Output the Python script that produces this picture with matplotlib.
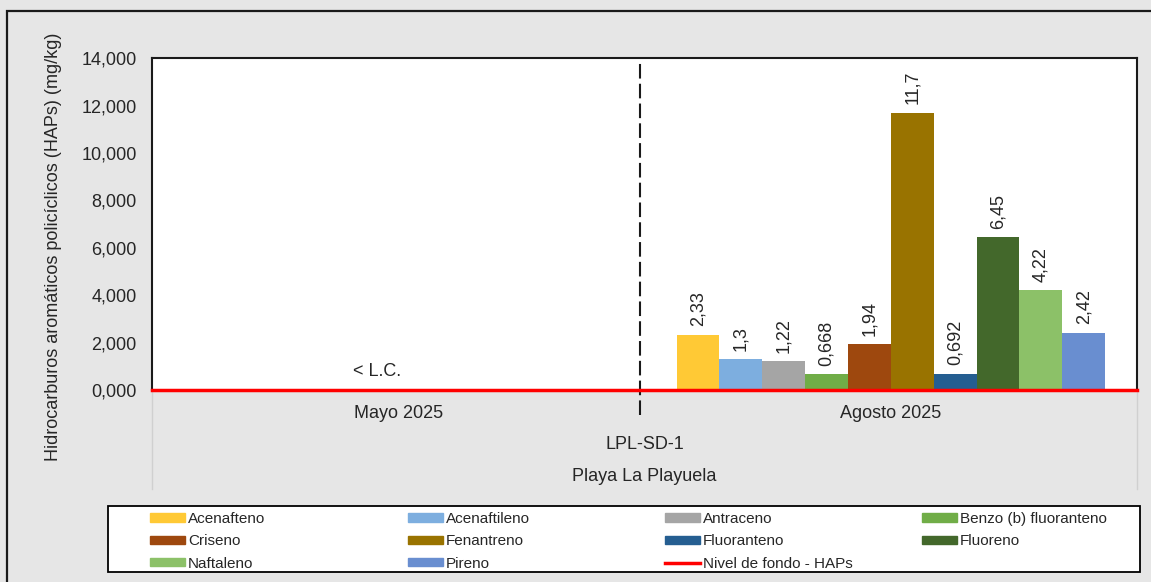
import numpy as np
import matplotlib
matplotlib.use('Agg')
import matplotlib.pyplot as plt
from matplotlib.patches import Rectangle
from matplotlib.lines import Line2D

plt.rcParams['font.family'] = ['Liberation Sans', 'DejaVu Sans']

# datos
CATEGORIES = ["Mayo 2025", "Agosto 2025"]
STATION = "LPL-SD-1"
SITE = "Playa La Playuela"
COMPOUNDS = ["Acenafteno", "Acenaftileno", "Antraceno", "Benzo (b) fluoranteno",
             "Criseno", "Fenantreno", "Fluoranteno", "Fluoreno", "Naftaleno", "Pireno"]
COLORS = ["#FFC935", "#7DAEDF", "#A5A5A5", "#70AD47", "#9E480E",
          "#997300", "#255E91", "#43682B", "#8CC168", "#698ED0"]
MAYO = [0, 0, 0, 0, 0, 0, 0, 0, 0, 0]  # < L.C.
AGOSTO = [2.33, 1.3, 1.22, 0.668, 1.94, 11.7, 0.692, 6.45, 4.22, 2.42]
AGOSTO_LABELS = ["2,33", "1,3", "1,22", "0,668", "1,94", "11,7", "0,692", "6,45", "4,22", "2,42"]
NIVEL_FONDO = 0.0
YTICKS = [0, 2, 4, 6, 8, 10, 12, 14]

TXT = '#262626'
FS = 13

fig = plt.figure(figsize=(11.51, 5.82), dpi=100)
fig.patch.set_facecolor('#E6E6E6')
ax = fig.add_axes([0.132, 0.330, 0.856, 0.570])
ax.set_facecolor('white')

x = np.arange(len(CATEGORIES))
n = len(COMPOUNDS)
group = 0.87
w = group / n

bars_list = []
for i, (name, color) in enumerate(zip(COMPOUNDS, COLORS)):
    vals = [MAYO[i], AGOSTO[i]]
    pos = x + (i - (n - 1) / 2) * w
    bars = ax.bar(pos, vals, w, color=color, label=name, zorder=2)
    bars_list.append(bars)
    # etiqueta de datos (agosto)
    b = bars[1]
    ax.annotate(AGOSTO_LABELS[i], xy=(b.get_x() + b.get_width() / 2, b.get_height()),
                xytext=(0, 6), textcoords="offset points", ha='center', va='bottom',
                rotation=90, fontsize=FS, color=TXT)

# < L.C. en mayo
b = bars_list[4][0]
ax.annotate("< L.C.", xy=(b.get_x() + b.get_width() / 2, 0), xytext=(0, 7),
            textcoords="offset points", ha='center', va='bottom', fontsize=FS, color=TXT)

# nivel de fondo
ax.axhline(NIVEL_FONDO, color='#FF0000', lw=2.5, zorder=4, clip_on=False)

# separador
ax.axvline(0.49, ymin=-0.075, ymax=1, color='#1a1a1a', lw=1.5, ls=(0, (7, 2.5)),
           clip_on=False, zorder=3)

ax.set_xlim(-0.5, 1.5)
ax.set_ylim(0, 14)
ax.set_yticks(YTICKS)
ax.set_yticklabels([f"{v},000" for v in YTICKS], fontsize=FS, color=TXT)
ax.set_xticks(x)
ax.set_xticklabels(CATEGORIES, fontsize=FS, color=TXT)
ax.tick_params(axis='y', length=0, pad=11)
ax.tick_params(axis='x', length=0, pad=11)
for side in ['left', 'top', 'right']:
    ax.spines[side].set_linewidth(1.5)
    ax.spines[side].set_color('#1a1a1a')
ax.spines['bottom'].set_visible(False)

ax.set_ylabel("Hidrocarburos aromáticos policíclicos (HAPs) (mg/kg)", fontsize=FS, color=TXT)
ax.yaxis.set_label_coords(-0.091, 0.43)

ax.text(0.5, -0.163, STATION, transform=ax.transAxes, ha='center', va='center',
        fontsize=FS, color=TXT)
ax.text(0.5, -0.262, SITE, transform=ax.transAxes, ha='center', va='center',
        fontsize=FS, color=TXT)

# lineas de la categoria multinivel
for xf in [0.0, 1.0]:
    ax.add_line(Line2D([xf, xf], [0, -0.30], transform=ax.transAxes, color='#D0D0D0',
                       lw=1, clip_on=False))

# leyenda (4 columnas, orden por filas)
handles = [Rectangle((0, 0), 1, 1, color=c) for c in COLORS]
handles.append(Line2D([0], [0], color='#FF0000', lw=2.5))
labels = COMPOUNDS + ['Nivel de fondo - HAPs']
columns = [[0, 4, 8], [1, 5, 9], [2, 6, 10], [3, 7]]
col_x = [150, 408, 665, 922]
fig.patches.append(Rectangle((108 / 1151, 1 - 572 / 582), (1140 - 108) / 1151, (572 - 506) / 582,
                             transform=fig.transFigure, facecolor='white', edgecolor='black',
                             lw=1.3, zorder=0))
for idx, cx in zip(columns, col_x):
    fig.legend([handles[k] for k in idx], [labels[k] for k in idx], loc='upper left',
               frameon=False, bbox_to_anchor=(cx / 1151, 1 - 512 / 582),
               prop={'size': 11}, handlelength=2.3, handleheight=0.45, handletextpad=0.2,
               labelspacing=0.55, borderaxespad=0, borderpad=0, labelcolor=TXT)

# borde exterior
fig.patches.append(Rectangle((7 / 1151, -0.01), 1.05, 1 - 11 / 582 + 0.01,
                             transform=fig.transFigure, facecolor='none', edgecolor='#1a1a1a',
                             lw=1.6, zorder=10))

fig.savefig('out.png', dpi=100, facecolor=fig.get_facecolor())
